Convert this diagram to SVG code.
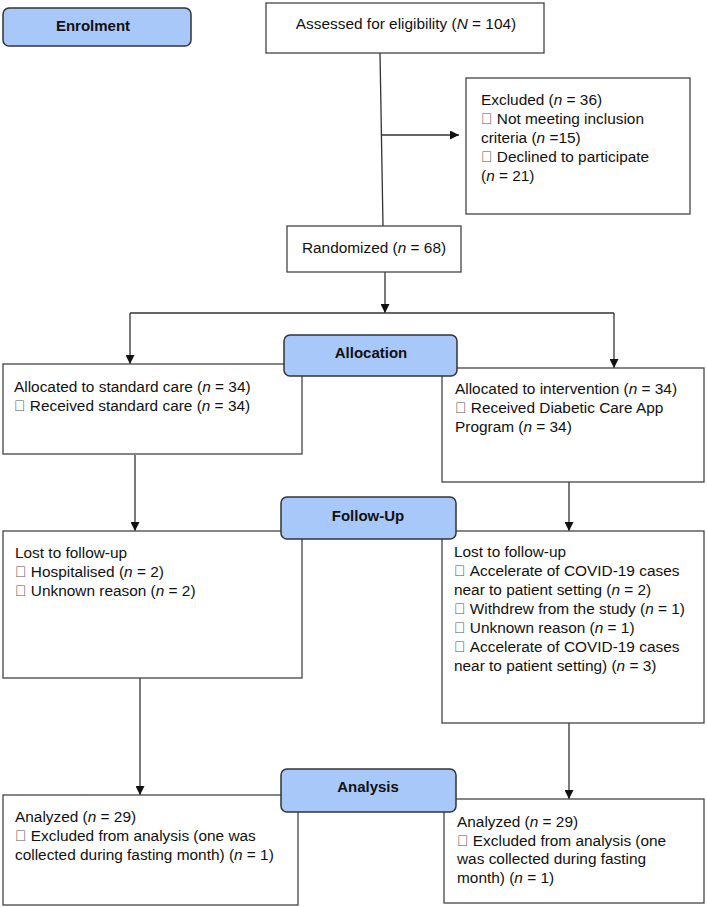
<svg xmlns="http://www.w3.org/2000/svg" width="707" height="907" viewBox="0 0 707 907">
<style>
.box{fill:#fff;stroke:#444;stroke-width:1.3}
.lab{fill:#a9c8fa;stroke:#333;stroke-width:1.5}
.t{font-family:"Liberation Sans",Arial,sans-serif;font-size:15.4px;fill:#111}
.b{font-family:"Liberation Sans",Arial,sans-serif;font-size:15px;font-weight:bold;fill:#111;text-anchor:middle}
.c{text-anchor:middle}
.bu{fill:#555}
.ln{stroke:#333;stroke-width:1.3;fill:none}
</style>
<defs>
<marker id="ah" markerWidth="9" markerHeight="9" refX="9" refY="4.5" orient="auto" markerUnits="userSpaceOnUse">
<path d="M0,0 L9,4.5 L0,9 z" fill="#111"/>
</marker>
</defs>
<rect width="707" height="907" fill="#fff"/>
<g id="connectors">
<line class="ln" x1="380" y1="53" x2="383" y2="226"/>
<line class="ln" x1="382" y1="135" x2="459" y2="135" marker-end="url(#ah)"/>
<line class="ln" x1="385" y1="272" x2="385" y2="313" marker-end="url(#ah)"/>
<line class="ln" x1="130" y1="313" x2="614" y2="313"/>
<line class="ln" x1="130" y1="313" x2="130" y2="364" marker-end="url(#ah)"/>
<line class="ln" x1="614" y1="313" x2="614" y2="368" marker-end="url(#ah)"/>
<line class="ln" x1="135" y1="455" x2="135" y2="531" marker-end="url(#ah)"/>
<line class="ln" x1="569" y1="482" x2="569" y2="531" marker-end="url(#ah)"/>
<line class="ln" x1="140" y1="678" x2="140" y2="795" marker-end="url(#ah)"/>
<line class="ln" x1="569" y1="723" x2="569" y2="799" marker-end="url(#ah)"/>
</g>
<g id="enrolment">
<rect class="lab" x="3" y="8" width="188" height="38" rx="6"/>
<text class="b" x="93" y="31">Enrolment</text>
</g>
<g id="assessed">
<rect class="box" x="266" y="3" width="278" height="50"/>
<text class="t c" x="406" y="29">Assessed for eligibility (<tspan font-style="italic">N</tspan> = 104)</text>
</g>
<g id="excluded">
<rect class="box" x="466" y="78" width="224" height="136"/>
<text class="t" x="481" y="105">Excluded (<tspan font-style="italic">n</tspan> = 36)</text>
<text class="t" x="481" y="124"><tspan class="bu">&#xF0B7;</tspan> Not meeting inclusion</text>
<text class="t" x="481" y="143">criteria (<tspan font-style="italic">n</tspan> =15)</text>
<text class="t" x="481" y="162"><tspan class="bu">&#xF0B7;</tspan> Declined to participate</text>
<text class="t" x="481" y="181">(<tspan font-style="italic">n</tspan> = 21)</text>
</g>
<g id="randomized">
<rect class="box" x="287" y="226" width="174" height="46"/>
<text class="t c" x="374" y="253">Randomized (<tspan font-style="italic">n</tspan> = 68)</text>
</g>
<g id="alloc-left">
<rect class="box" x="3" y="364" width="299" height="90"/>
<text class="t" x="14" y="392">Allocated to standard care (<tspan font-style="italic">n</tspan> = 34)</text>
<text class="t" x="14" y="411"><tspan class="bu">&#xF0B7;</tspan> Received standard care (<tspan font-style="italic">n</tspan> = 34)</text>
</g>
<g id="alloc-right">
<rect class="box" x="442" y="368" width="262" height="114"/>
<text class="t" x="455" y="394">Allocated to intervention (<tspan font-style="italic">n</tspan> = 34)</text>
<text class="t" x="455" y="413"><tspan class="bu">&#xF0B7;</tspan> Received Diabetic Care App</text>
<text class="t" x="455" y="432">Program (<tspan font-style="italic">n</tspan> = 34)</text>
</g>
<g id="allocation">
<rect class="lab" x="284" y="335" width="173" height="41" rx="6"/>
<text class="b" x="371" y="358">Allocation</text>
</g>
<g id="lost-left">
<rect class="box" x="3" y="531" width="299" height="147"/>
<text class="t" x="15" y="558">Lost to follow-up</text>
<text class="t" x="15" y="577"><tspan class="bu">&#xF0B7;</tspan> Hospitalised (<tspan font-style="italic">n</tspan> = 2)</text>
<text class="t" x="15" y="596"><tspan class="bu">&#xF0B7;</tspan> Unknown reason (<tspan font-style="italic">n</tspan> = 2)</text>
</g>
<g id="lost-right">
<rect class="box" x="442" y="531" width="262" height="192"/>
<text class="t" x="454" y="557">Lost to follow-up</text>
<text class="t" x="454" y="576"><tspan class="bu">&#xF0B7;</tspan> Accelerate of COVID-19 cases</text>
<text class="t" x="454" y="595">near to patient setting (<tspan font-style="italic">n</tspan> = 2)</text>
<text class="t" x="454" y="614"><tspan class="bu">&#xF0B7;</tspan> Withdrew from the study (<tspan font-style="italic">n</tspan> = 1)</text>
<text class="t" x="454" y="633"><tspan class="bu">&#xF0B7;</tspan> Unknown reason (<tspan font-style="italic">n</tspan> = 1)</text>
<text class="t" x="454" y="652"><tspan class="bu">&#xF0B7;</tspan> Accelerate of COVID-19 cases</text>
<text class="t" x="454" y="671">near to patient setting) (<tspan font-style="italic">n</tspan> = 3)</text>
</g>
<g id="followup">
<rect class="lab" x="281" y="497" width="175" height="42" rx="6"/>
<text class="b" x="368" y="521">Follow-Up</text>
</g>
<g id="analyzed-left">
<rect class="box" x="3" y="795" width="295" height="110"/>
<text class="t" x="15" y="822">Analyzed (<tspan font-style="italic">n</tspan> = 29)</text>
<text class="t" x="15" y="841"><tspan class="bu">&#xF0B7;</tspan> Excluded from analysis (one was</text>
<text class="t" x="15" y="860">collected during fasting month) (<tspan font-style="italic">n</tspan> = 1)</text>
</g>
<g id="analyzed-right">
<rect class="box" x="444" y="799" width="260" height="104"/>
<text class="t" x="457" y="827">Analyzed (<tspan font-style="italic">n</tspan> = 29)</text>
<text class="t" x="457" y="846"><tspan class="bu">&#xF0B7;</tspan> Excluded from analysis (one</text>
<text class="t" x="457" y="864">was collected during fasting</text>
<text class="t" x="457" y="883">month) (<tspan font-style="italic">n</tspan> = 1)</text>
</g>
<g id="analysis">
<rect class="lab" x="281" y="769" width="175" height="43" rx="6"/>
<text class="b" x="368" y="792">Analysis</text>
</g>
</svg>
